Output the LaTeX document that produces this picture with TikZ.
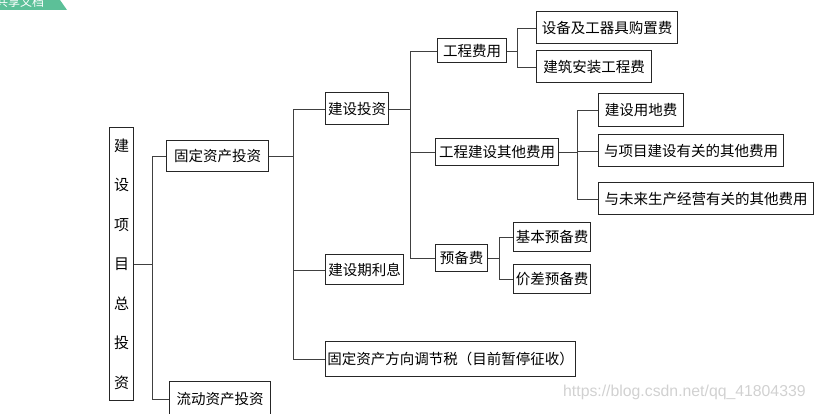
\documentclass[tikz,border=0pt]{standalone}
\usepackage{fontspec}
\newfontfamily\cjk{Noto Sans CJK SC}
\setsansfont{Liberation Sans}
\definecolor{tabgreen}{RGB}{92,192,152}
\begin{document}
\begin{tikzpicture}[x=1pt,y=-1pt,
  box/.style={draw=black!85,line width=1pt,anchor=west,inner sep=0pt,minimum height=30pt,font=\cjk\fontsize{14.5}{16}\selectfont},
  link/.style={draw=black!75,line width=0.9pt}]
\useasboundingbox (0,0) rectangle (815,414);
\clip (0,0) rectangle (815,414);

\fill[tabgreen] (0,0)--(60,0)--(67,10)--(0,10)--cycle;
\node[text=white,anchor=west,inner sep=0pt,font=\cjk\fontsize{12}{12}\selectfont] (tab) at (-4,2) {共享文档};

\node[box,anchor=north west,minimum width=24pt,minimum height=273pt,align=center,font=\cjk\fontsize{15}{39.5}\selectfont] (root) at (109,127) {建\\设\\项\\目\\总\\投\\资};

\node[box,minimum width=102pt,minimum height=31pt] (gd) at (166,156) {固定资产投资};
\node[box,minimum width=101pt,minimum height=34pt] (ld) at (169,399) {流动资产投资};

\node[box,minimum width=63pt,minimum height=32pt] (js) at (325,109) {建设投资};
\node[box,minimum width=78pt] (jsl) at (325,270) {建设期利息};
\node[box,minimum width=250pt,minimum height=35pt] (tz) at (325,359) {固定资产方向调节税（目前暂停征收）};

\node[box,minimum width=69pt,minimum height=24pt] (gc) at (437,51) {工程费用};
\node[box,minimum width=123pt,minimum height=27pt] (qt) at (435,152) {工程建设其他费用};
\node[box,minimum width=52pt,minimum height=27pt] (yb) at (435,258) {预备费};

\node[box,minimum width=141pt,minimum height=32pt] (sb) at (536,28) {设备及工器具购置费};
\node[box,minimum width=115pt,minimum height=32pt] (ja) at (536,67) {建筑安装工程费};
\node[box,minimum width=85pt,minimum height=33pt] (yd) at (598,110) {建设用地费};
\node[box,minimum width=185pt,minimum height=32pt] (xm) at (598,151) {与项目建设有关的其他费用};
\node[box,minimum width=215pt,minimum height=32pt] (wl) at (598,199) {与未来生产经营有关的其他费用};
\node[box,minimum width=77pt,minimum height=29pt] (jb) at (513,237) {基本预备费};
\node[box,minimum width=77pt,minimum height=29pt] (jc) at (513,279) {价差预备费};

\coordinate (b1) at (152,0);
\coordinate (b2) at (293,0);
\coordinate (b3) at (410,0);
\coordinate (b4) at (517,0);
\coordinate (b5) at (577,0);
\coordinate (b6) at (499,0);

\draw[link] (root.east) -- (root.east -| b1);
\draw[link] (gd.west) -| (ld.west -| b1) -- (ld.west);

\draw[link] (gd.east) -- (gd.east -| b2);
\draw[link] (js.west) -| (tz.west -| b2) -- (tz.west);
\draw[link] (jsl.west) -- (jsl.west -| b2);

\draw[link] (js.east) -- (js.east -| b3);
\draw[link] (gc.west) -| (yb.west -| b3) -- (yb.west);
\draw[link] (qt.west) -- (qt.west -| b3);

\draw[link] (gc.east) -- (gc.east -| b4);
\draw[link] (sb.west) -| (ja.west -| b4) -- (ja.west);

\draw[link] (qt.east) -- (qt.east -| b5);
\draw[link] (yd.west) -| (wl.west -| b5) -- (wl.west);
\draw[link] (xm.west) -- (xm.west -| b5);

\draw[link] (yb.east) -- (yb.east -| b6);
\draw[link] (jb.west) -| (jc.west -| b6) -- (jc.west);

\node[anchor=west,inner sep=0pt,text=black!18,font=\sffamily\fontsize{15.8}{16}\selectfont] (wm) at (563,392) {https://blog.csdn.net/qq\_41804339};
\end{tikzpicture}
\end{document}
